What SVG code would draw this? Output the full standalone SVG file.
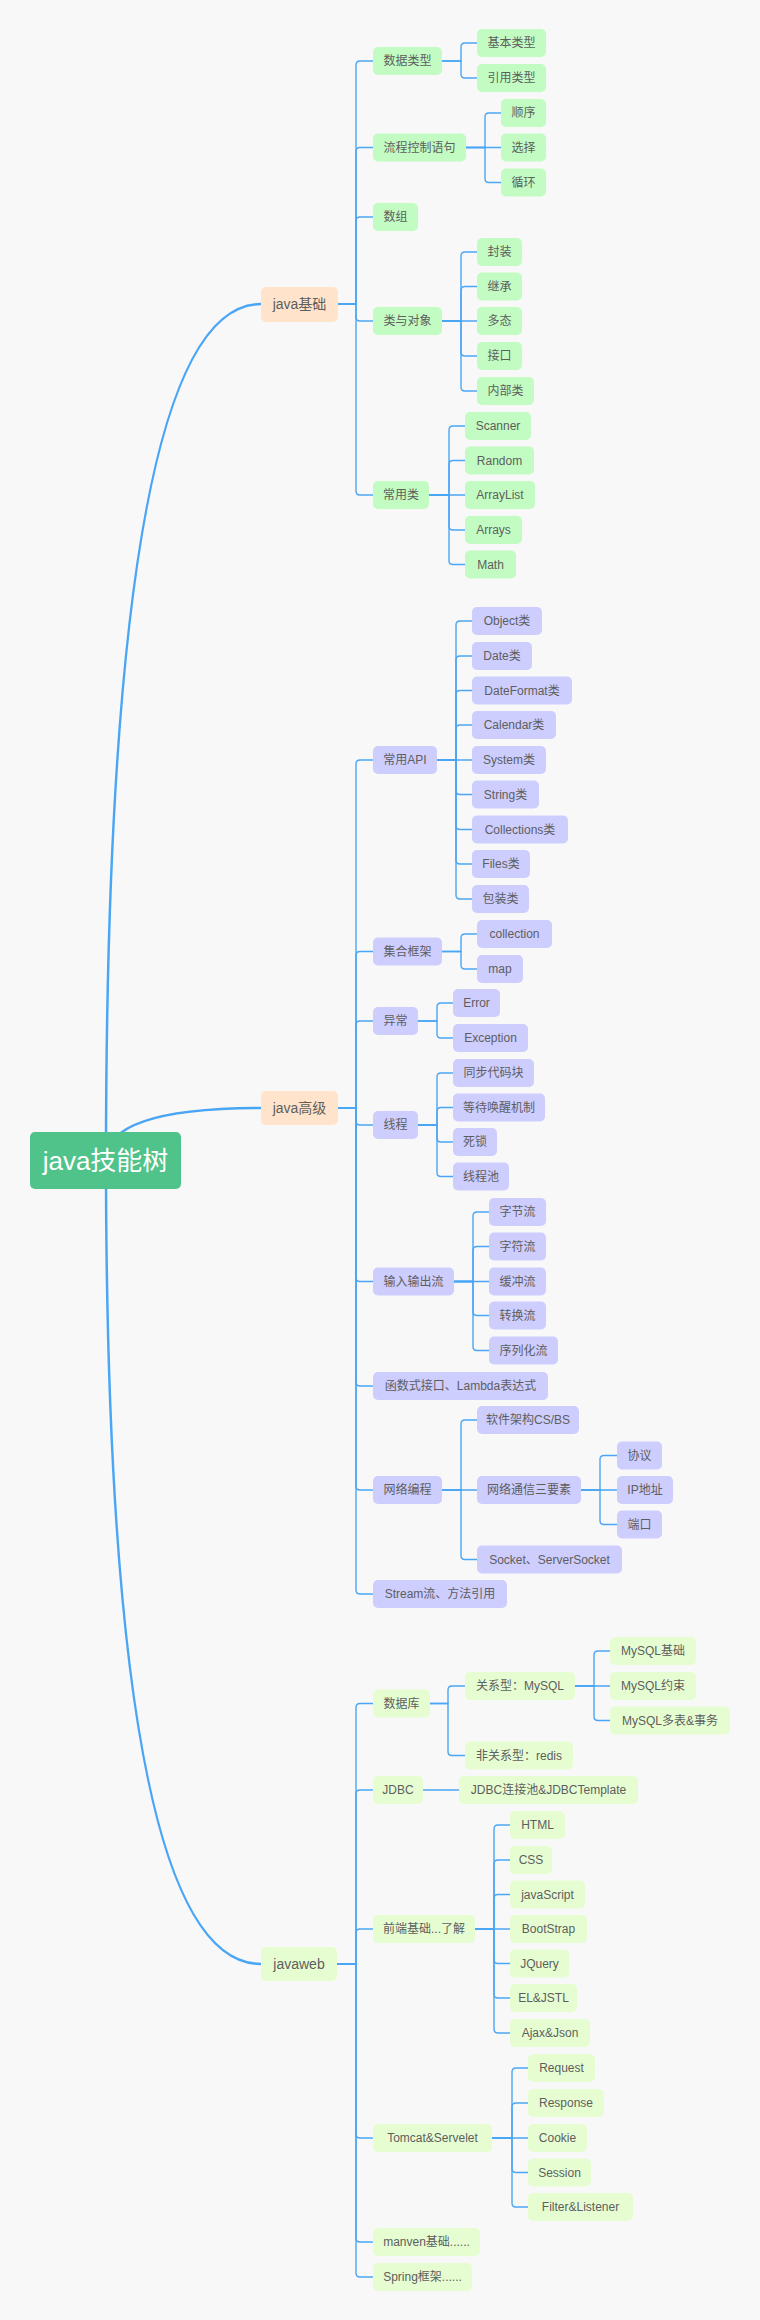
<svg xmlns="http://www.w3.org/2000/svg" width="760" height="2320" viewBox="0 0 760 2320">
<style>
.bg{fill:#f8f8f8}
rect.g{fill:#c2fcc2}
rect.p{fill:#cdcdfe}
rect.y{fill:#e6fdd2}
rect.o{fill:#ffe4cb}
rect.r{fill:#50c38a}
text{font-family:"Liberation Sans","Noto Sans CJK SC",sans-serif;font-size:12px;fill:#5e5e5e;text-anchor:middle}
text.l1{font-size:14px}
text.root{font-size:26px;fill:#ffffff}
#connectors path{fill:none;stroke:#4aa6f5;stroke-width:1.4}
#connectors path.main{stroke-width:2.5}
#connectors path.w2{stroke-width:2}
</style>
<rect class="bg" x="0" y="0" width="760" height="2320"/>
<g id="connectors">
<path class="main" d="M106 1160 Q106 304 261 304"/>
<path class="main" d="M106 1160 Q106 1108 261 1108"/>
<path class="main" d="M106 1160 Q106 1964 261 1964"/>
<!-- java基础 -->
<path d="M338 304 H356 V65 Q356 61 360 61 H373"/>
<path d="M338 304 H356 V151.5 Q356 147.5 360 147.5 H373"/>
<path d="M338 304 H356 V221 Q356 217 360 217 H373"/>
<path d="M338 304 H356 V317 Q356 321 360 321 H373"/>
<path d="M338 304 H356 V491 Q356 495 360 495 H373"/>
<path d="M442 61 H461 V47 Q461 43 465 43 H477"/>
<path d="M442 61 H461 V74 Q461 78 465 78 H477"/>
<path d="M466 147.5 H485 V117 Q485 113 489 113 H501"/>
<path d="M466 147.5 H501"/>
<path d="M466 147.5 H485 V178.5 Q485 182.5 489 182.5 H501"/>
<path d="M442 321 H461 V256 Q461 252 465 252 H477"/>
<path d="M442 321 H461 V290.5 Q461 286.5 465 286.5 H477"/>
<path d="M442 321 H477"/>
<path d="M442 321 H461 V352 Q461 356 465 356 H477"/>
<path d="M442 321 H461 V387 Q461 391 465 391 H477"/>
<path d="M429 495 H449 V430 Q449 426 453 426 H465"/>
<path d="M429 495 H449 V464.5 Q449 460.5 453 460.5 H465"/>
<path d="M429 495 H465"/>
<path d="M429 495 H449 V526 Q449 530 453 530 H465"/>
<path d="M429 495 H449 V560.5 Q449 564.5 453 564.5 H465"/>
<!-- java高级 -->
<path d="M338 1108 H356 V764 Q356 760 360 760 H373"/>
<path d="M338 1108 H356 V955.5 Q356 951.5 360 951.5 H373"/>
<path d="M338 1108 H356 V1025 Q356 1021 360 1021 H373"/>
<path d="M338 1108 H356 V1121 Q356 1125 360 1125 H373"/>
<path d="M338 1108 H356 V1277.5 Q356 1281.5 360 1281.5 H373"/>
<path d="M338 1108 H356 V1382 Q356 1386 360 1386 H373"/>
<path d="M338 1108 H356 V1486 Q356 1490 360 1490 H373"/>
<path d="M338 1108 H356 V1590 Q356 1594 360 1594 H373"/>
<path d="M437 760 H456 V625 Q456 621 460 621 H472"/>
<path d="M437 760 H456 V660 Q456 656 460 656 H472"/>
<path d="M437 760 H456 V694.5 Q456 690.5 460 690.5 H472"/>
<path d="M437 760 H456 V729 Q456 725 460 725 H472"/>
<path d="M437 760 H472"/>
<path d="M437 760 H456 V790.5 Q456 794.5 460 794.5 H472"/>
<path d="M437 760 H456 V825.5 Q456 829.5 460 829.5 H472"/>
<path d="M437 760 H456 V860 Q456 864 460 864 H472"/>
<path d="M437 760 H456 V895 Q456 899 460 899 H472"/>
<path d="M442 951.5 H461 V938 Q461 934 465 934 H477"/>
<path d="M442 951.5 H461 V965 Q461 969 465 969 H477"/>
<path d="M418 1021 H437 V1007 Q437 1003 441 1003 H453"/>
<path d="M418 1021 H437 V1034 Q437 1038 441 1038 H453"/>
<path d="M418 1125 H437 V1077 Q437 1073 441 1073 H453"/>
<path d="M418 1125 H437 V1111.5 Q437 1107.5 441 1107.5 H453"/>
<path d="M418 1125 H437 V1138 Q437 1142 441 1142 H453"/>
<path d="M418 1125 H437 V1172.5 Q437 1176.5 441 1176.5 H453"/>
<path d="M454 1281.5 H473 V1216 Q473 1212 477 1212 H489"/>
<path d="M454 1281.5 H473 V1250.5 Q473 1246.5 477 1246.5 H489"/>
<path d="M454 1281.5 H489"/>
<path d="M454 1281.5 H473 V1311.5 Q473 1315.5 477 1315.5 H489"/>
<path d="M454 1281.5 H473 V1346.5 Q473 1350.5 477 1350.5 H489"/>
<path d="M442 1490 H461 V1424 Q461 1420 465 1420 H477"/>
<path d="M442 1490 H477"/>
<path d="M442 1490 H461 V1555.5 Q461 1559.5 465 1559.5 H477"/>
<path d="M581 1490 H600 V1459.5 Q600 1455.5 604 1455.5 H617"/>
<path d="M581 1490 H617"/>
<path d="M581 1490 H600 V1520.5 Q600 1524.5 604 1524.5 H617"/>
<!-- javaweb -->
<path class="w2" d="M337 1964 H356"/>
<path d="M356 1964 V1707.5 Q356 1703.5 360 1703.5 H373"/>
<path d="M356 1964 V1794 Q356 1790 360 1790 H373"/>
<path d="M356 1964 V1933 Q356 1929 360 1929 H373"/>
<path d="M356 1964 V2134 Q356 2138 360 2138 H373"/>
<path d="M356 1964 V2238 Q356 2242 360 2242 H373"/>
<path d="M356 1964 V2273 Q356 2277 360 2277 H373"/>
<path d="M430 1703.5 H448 V1690 Q448 1686 452 1686 H465"/>
<path d="M430 1703.5 H448 V1751.5 Q448 1755.5 452 1755.5 H465"/>
<path d="M575 1686 H594 V1655 Q594 1651 598 1651 H610"/>
<path d="M575 1686 H610"/>
<path d="M575 1686 H594 V1716.5 Q594 1720.5 598 1720.5 H610"/>
<path d="M423 1790 H459"/>
<path d="M475 1929 H494 V1829 Q494 1825 498 1825 H510"/>
<path d="M475 1929 H494 V1864 Q494 1860 498 1860 H510"/>
<path d="M475 1929 H494 V1898.5 Q494 1894.5 498 1894.5 H510"/>
<path d="M475 1929 H510"/>
<path d="M475 1929 H494 V1959.5 Q494 1963.5 498 1963.5 H510"/>
<path d="M475 1929 H494 V1994 Q494 1998 498 1998 H510"/>
<path d="M475 1929 H494 V2029 Q494 2033 498 2033 H510"/>
<path d="M492 2138 H512 V2072 Q512 2068 516 2068 H528"/>
<path d="M492 2138 H512 V2107 Q512 2103 516 2103 H528"/>
<path d="M492 2138 H528"/>
<path d="M492 2138 H512 V2168.5 Q512 2172.5 516 2172.5 H528"/>
<path d="M492 2138 H512 V2203 Q512 2207 516 2207 H528"/>
</g>
<!-- root -->
<g id="root"><rect class="r" x="30" y="1132" width="151" height="57" rx="5"/><text class="root" x="105.5" y="1170">java技能树</text></g>
<!-- level 1 -->
<g id="java-basic"><rect class="o" x="261" y="287" width="77" height="35" rx="5"/><text class="l1" x="299.5" y="309">java基础</text></g>
<g id="java-adv"><rect class="o" x="261" y="1091" width="77" height="34" rx="5"/><text class="l1" x="299.5" y="1113">java高级</text></g>
<g id="javaweb"><rect class="y" x="261" y="1947" width="76" height="34" rx="5"/><text class="l1" x="299" y="1969">javaweb</text></g>
<!-- java基础 children -->
<g id="n-datatype"><rect class="g" x="373" y="47" width="69" height="28" rx="5"/><text x="407.5" y="65">数据类型</text></g>
<g id="n-basic-type"><rect class="g" x="477" y="29" width="69" height="28" rx="5"/><text x="511.5" y="47">基本类型</text></g>
<g id="n-ref-type"><rect class="g" x="477" y="64" width="69" height="28" rx="5"/><text x="511.5" y="82">引用类型</text></g>
<g id="n-flow"><rect class="g" x="373" y="133.5" width="93" height="28" rx="5"/><text x="419.5" y="151.5">流程控制语句</text></g>
<g id="n-seq"><rect class="g" x="501" y="99" width="45" height="28" rx="5"/><text x="523.5" y="117">顺序</text></g>
<g id="n-sel"><rect class="g" x="501" y="133.5" width="45" height="28" rx="5"/><text x="523.5" y="151.5">选择</text></g>
<g id="n-loop"><rect class="g" x="501" y="168.5" width="45" height="28" rx="5"/><text x="523.5" y="186.5">循环</text></g>
<g id="n-array"><rect class="g" x="373" y="203" width="45" height="28" rx="5"/><text x="395.5" y="221">数组</text></g>
<g id="n-class"><rect class="g" x="373" y="307" width="69" height="28" rx="5"/><text x="407.5" y="325">类与对象</text></g>
<g id="n-encap"><rect class="g" x="477" y="238" width="45" height="28" rx="5"/><text x="499.5" y="256">封装</text></g>
<g id="n-inherit"><rect class="g" x="477" y="272.5" width="45" height="28" rx="5"/><text x="499.5" y="290.5">继承</text></g>
<g id="n-poly"><rect class="g" x="477" y="307" width="45" height="28" rx="5"/><text x="499.5" y="325">多态</text></g>
<g id="n-iface"><rect class="g" x="477" y="342" width="45" height="28" rx="5"/><text x="499.5" y="360">接口</text></g>
<g id="n-inner"><rect class="g" x="477" y="377" width="57" height="28" rx="5"/><text x="505.5" y="395">内部类</text></g>
<g id="n-common"><rect class="g" x="373" y="481" width="56" height="28" rx="5"/><text x="401" y="499">常用类</text></g>
<g id="n-scanner"><rect class="g" x="465" y="412" width="66" height="28" rx="5"/><text x="498" y="430">Scanner</text></g>
<g id="n-random"><rect class="g" x="465" y="446.5" width="69" height="28" rx="5"/><text x="499.5" y="464.5">Random</text></g>
<g id="n-arraylist"><rect class="g" x="465" y="481" width="70" height="28" rx="5"/><text x="500" y="499">ArrayList</text></g>
<g id="n-arrays"><rect class="g" x="465" y="516" width="57" height="28" rx="5"/><text x="493.5" y="534">Arrays</text></g>
<g id="n-math"><rect class="g" x="465" y="550.5" width="51" height="28" rx="5"/><text x="490.5" y="568.5">Math</text></g>
<!-- java高级 children -->
<g id="n-api"><rect class="p" x="373" y="746" width="64" height="28" rx="5"/><text x="405" y="764">常用API</text></g>
<g id="n-object"><rect class="p" x="472" y="607" width="70" height="28" rx="5"/><text x="507" y="625">Object类</text></g>
<g id="n-date"><rect class="p" x="472" y="642" width="60" height="28" rx="5"/><text x="502" y="660">Date类</text></g>
<g id="n-dateformat"><rect class="p" x="472" y="676.5" width="100" height="28" rx="5"/><text x="522" y="694.5">DateFormat类</text></g>
<g id="n-calendar"><rect class="p" x="472" y="711" width="84" height="28" rx="5"/><text x="514" y="729">Calendar类</text></g>
<g id="n-system"><rect class="p" x="472" y="746" width="74" height="28" rx="5"/><text x="509" y="764">System类</text></g>
<g id="n-string"><rect class="p" x="472" y="780.5" width="67" height="28" rx="5"/><text x="505.5" y="798.5">String类</text></g>
<g id="n-collections"><rect class="p" x="472" y="815.5" width="96" height="28" rx="5"/><text x="520" y="833.5">Collections类</text></g>
<g id="n-files"><rect class="p" x="472" y="850" width="58" height="28" rx="5"/><text x="501" y="868">Files类</text></g>
<g id="n-wrapper"><rect class="p" x="472" y="885" width="57" height="28" rx="5"/><text x="500.5" y="903">包装类</text></g>
<g id="n-collfw"><rect class="p" x="373" y="937.5" width="69" height="28" rx="5"/><text x="407.5" y="955.5">集合框架</text></g>
<g id="n-collection"><rect class="p" x="477" y="920" width="75" height="28" rx="5"/><text x="514.5" y="938">collection</text></g>
<g id="n-map"><rect class="p" x="477" y="955" width="46" height="28" rx="5"/><text x="500" y="973">map</text></g>
<g id="n-exc"><rect class="p" x="373" y="1007" width="45" height="28" rx="5"/><text x="395.5" y="1025">异常</text></g>
<g id="n-error"><rect class="p" x="453" y="989" width="47" height="28" rx="5"/><text x="476.5" y="1007">Error</text></g>
<g id="n-exception"><rect class="p" x="453" y="1024" width="75" height="28" rx="5"/><text x="490.5" y="1042">Exception</text></g>
<g id="n-thread"><rect class="p" x="373" y="1111" width="45" height="28" rx="5"/><text x="395.5" y="1129">线程</text></g>
<g id="n-sync"><rect class="p" x="453" y="1059" width="81" height="28" rx="5"/><text x="493.5" y="1077">同步代码块</text></g>
<g id="n-wait"><rect class="p" x="453" y="1093.5" width="92" height="28" rx="5"/><text x="499" y="1111.5">等待唤醒机制</text></g>
<g id="n-deadlock"><rect class="p" x="453" y="1128" width="44" height="28" rx="5"/><text x="475" y="1146">死锁</text></g>
<g id="n-pool"><rect class="p" x="453" y="1162.5" width="56" height="28" rx="5"/><text x="481" y="1180.5">线程池</text></g>
<g id="n-io"><rect class="p" x="373" y="1267.5" width="81" height="28" rx="5"/><text x="413.5" y="1285.5">输入输出流</text></g>
<g id="n-byte"><rect class="p" x="489" y="1198" width="57" height="28" rx="5"/><text x="517.5" y="1216">字节流</text></g>
<g id="n-char"><rect class="p" x="489" y="1232.5" width="57" height="28" rx="5"/><text x="517.5" y="1250.5">字符流</text></g>
<g id="n-buffer"><rect class="p" x="489" y="1267.5" width="57" height="28" rx="5"/><text x="517.5" y="1285.5">缓冲流</text></g>
<g id="n-convert"><rect class="p" x="489" y="1301.5" width="57" height="28" rx="5"/><text x="517.5" y="1319.5">转换流</text></g>
<g id="n-serial"><rect class="p" x="489" y="1336.5" width="69" height="28" rx="5"/><text x="523.5" y="1354.5">序列化流</text></g>
<g id="n-lambda"><rect class="p" x="373" y="1372" width="175" height="28" rx="5"/><text x="460.5" y="1390">函数式接口、Lambda表达式</text></g>
<g id="n-net"><rect class="p" x="373" y="1476" width="69" height="28" rx="5"/><text x="407.5" y="1494">网络编程</text></g>
<g id="n-csbs"><rect class="p" x="477" y="1406" width="102" height="28" rx="5"/><text x="528" y="1424">软件架构CS/BS</text></g>
<g id="n-three"><rect class="p" x="477" y="1476" width="104" height="28" rx="5"/><text x="529" y="1494">网络通信三要素</text></g>
<g id="n-protocol"><rect class="p" x="617" y="1441.5" width="45" height="28" rx="5"/><text x="639.5" y="1459.5">协议</text></g>
<g id="n-ip"><rect class="p" x="617" y="1476" width="56" height="28" rx="5"/><text x="645" y="1494">IP地址</text></g>
<g id="n-port"><rect class="p" x="617" y="1510.5" width="45" height="28" rx="5"/><text x="639.5" y="1528.5">端口</text></g>
<g id="n-socket"><rect class="p" x="477" y="1545.5" width="145" height="28" rx="5"/><text x="549.5" y="1563.5">Socket、ServerSocket</text></g>
<g id="n-stream"><rect class="p" x="373" y="1580" width="134" height="28" rx="5"/><text x="440" y="1598">Stream流、方法引用</text></g>
<!-- javaweb children -->
<g id="n-db"><rect class="y" x="373" y="1689.5" width="57" height="28" rx="5"/><text x="401.5" y="1707.5">数据库</text></g>
<g id="n-mysql"><rect class="y" x="465" y="1672" width="110" height="28" rx="5"/><text x="520" y="1690">关系型：MySQL</text></g>
<g id="n-mysql-basic"><rect class="y" x="610" y="1637" width="86" height="28" rx="5"/><text x="653" y="1655">MySQL基础</text></g>
<g id="n-mysql-cons"><rect class="y" x="610" y="1672" width="86" height="28" rx="5"/><text x="653" y="1690">MySQL约束</text></g>
<g id="n-mysql-multi"><rect class="y" x="610" y="1706.5" width="120" height="28" rx="5"/><text x="670" y="1724.5">MySQL多表&amp;事务</text></g>
<g id="n-redis"><rect class="y" x="465" y="1741.5" width="108" height="28" rx="5"/><text x="519" y="1759.5">非关系型：redis</text></g>
<g id="n-jdbc"><rect class="y" x="373" y="1776" width="50" height="28" rx="5"/><text x="398" y="1794">JDBC</text></g>
<g id="n-jdbc-pool"><rect class="y" x="459" y="1776" width="179" height="28" rx="5"/><text x="548.5" y="1794">JDBC连接池&amp;JDBCTemplate</text></g>
<g id="n-front"><rect class="y" x="373" y="1915" width="102" height="28" rx="5"/><text x="424" y="1933">前端基础...了解</text></g>
<g id="n-html"><rect class="y" x="510" y="1811" width="55" height="28" rx="5"/><text x="537.5" y="1829">HTML</text></g>
<g id="n-css"><rect class="y" x="510" y="1846" width="42" height="28" rx="5"/><text x="531" y="1864">CSS</text></g>
<g id="n-js"><rect class="y" x="510" y="1880.5" width="75" height="28" rx="5"/><text x="547.5" y="1898.5">javaScript</text></g>
<g id="n-bootstrap"><rect class="y" x="510" y="1915" width="77" height="28" rx="5"/><text x="548.5" y="1933">BootStrap</text></g>
<g id="n-jquery"><rect class="y" x="510" y="1949.5" width="59" height="28" rx="5"/><text x="539.5" y="1967.5">JQuery</text></g>
<g id="n-el"><rect class="y" x="510" y="1984" width="67" height="28" rx="5"/><text x="543.5" y="2002">EL&amp;JSTL</text></g>
<g id="n-ajax"><rect class="y" x="510" y="2019" width="80" height="28" rx="5"/><text x="550" y="2037">Ajax&amp;Json</text></g>
<g id="n-tomcat"><rect class="y" x="373" y="2124" width="119" height="28" rx="5"/><text x="432.5" y="2142">Tomcat&amp;Servelet</text></g>
<g id="n-request"><rect class="y" x="528" y="2054" width="67" height="28" rx="5"/><text x="561.5" y="2072">Request</text></g>
<g id="n-response"><rect class="y" x="528" y="2089" width="76" height="28" rx="5"/><text x="566" y="2107">Response</text></g>
<g id="n-cookie"><rect class="y" x="528" y="2124" width="59" height="28" rx="5"/><text x="557.5" y="2142">Cookie</text></g>
<g id="n-session"><rect class="y" x="528" y="2158.5" width="63" height="28" rx="5"/><text x="559.5" y="2176.5">Session</text></g>
<g id="n-filter"><rect class="y" x="528" y="2193" width="105" height="28" rx="5"/><text x="580.5" y="2211">Filter&amp;Listener</text></g>
<g id="n-maven"><rect class="y" x="373" y="2228" width="107" height="28" rx="5"/><text x="426.5" y="2246">manven基础......</text></g>
<g id="n-spring"><rect class="y" x="373" y="2263" width="99" height="28" rx="5"/><text x="422.5" y="2281">Spring框架......</text></g>
</svg>
